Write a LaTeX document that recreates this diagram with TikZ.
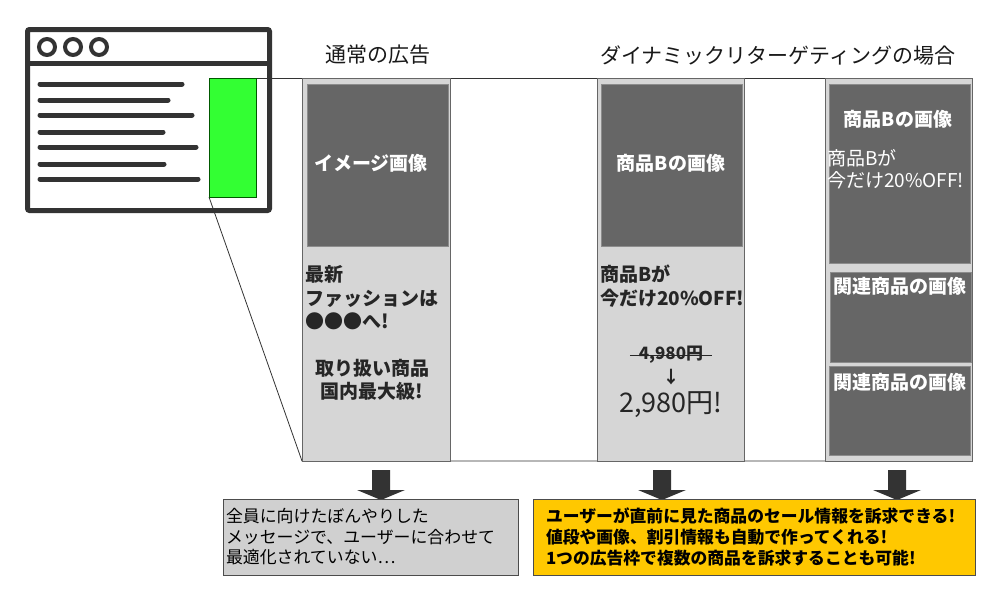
\documentclass[tikz,border=0pt]{standalone}
\usepackage{fontspec}
\setmainfont{Noto Sans CJK JP}
\usetikzlibrary{calc,backgrounds}
\definecolor{frame}{HTML}{333333}
\definecolor{panelgray}{HTML}{D6D6D6}
\definecolor{imggray}{HTML}{666666}
\definecolor{notegray}{HTML}{D0D0D0}
\definecolor{adgreen}{HTML}{33FF33}
\definecolor{noteyellow}{HTML}{FFC800}

\begin{document}
\begin{tikzpicture}[x=1pt,y=-1pt,
  every node/.style={inner sep=0pt,outer sep=0pt},
  panel/.style={draw=black!60,fill=panelgray,line width=1pt,anchor=north west},
  imgbox/.style={draw=black!45,fill=imggray,line width=0.6pt,anchor=north west},
  imgtext/.style={text=white,font=\fontsize{19}{22}\selectfont\bfseries},
  adtext/.style={text=black!85,font=\fontsize{19}{23.5}\selectfont\bfseries},
  title/.style={text=black!90,font=\fontsize{21}{24}\selectfont},
  notebox/.style={draw=black!70,line width=0.8pt,anchor=north west,minimum height=76,align=left}]

\useasboundingbox (0,0) rectangle (1000,600);

\draw [frame,line width=5,rounded corners=2] (27.5,29.5) rectangle (269.5,210.5);
\draw [frame,line width=5] (27.5,63) -- (269.5,63);
\foreach \x in {47,73,99}
  \draw [frame,line width=4] (\x,47) circle [radius=8pt];
\foreach \y/\e in {84/182,100/168,115/192,132/163,147/196,164/164,179/198}
  \draw [frame,line width=5,line cap=round] (40,\y) -- (\e,\y);

\node [draw=green!35!black,fill=adgreen,line width=0.6pt,minimum width=47,minimum height=119,anchor=north west] (adspace) at (209,78) {};

\node [panel,minimum width=148,minimum height=383] (normal) at (302,78) {};
\node [panel,minimum width=147,minimum height=383] (dynsingle) at (597,78) {};
\node [panel,minimum width=147,minimum height=383] (dynmulti) at (825,78) {};

\begin{scope}[on background layer]
\draw [frame,line width=0.8] (adspace.north west) -- (dynmulti.north east);
\draw [frame,line width=0.8] (adspace.south west) -- (normal.south west) -- (dynmulti.south east);
\end{scope}

\node [imgbox,minimum width=141,minimum height=162] (normalimg) at (307,84) {};
\node [imgbox,minimum width=141,minimum height=162] (singleimg) at (601,84) {};
\node [imgbox,minimum width=141,minimum height=179] (multiimg) at (829,84) {};
\node [imgbox,minimum width=141,minimum height=90] (relimga) at (830,272) {};
\node [imgbox,minimum width=141,minimum height=89] (relimgb) at (829,366) {};

\node [title] (normaltitle) at (378,55) {通常の広告};
\node [title] (dyntitle) at (778,55) {ダイナミックリターゲティングの場合};

\node [imgtext] (normalimglabel) at (371,163) {イメージ画像};
\node [adtext,anchor=west,align=left] (normalcopy) at (305,298) {最新\\ファッションは\\●●●へ!};
\node [adtext,align=center] (normalclaim) at (372,380) {取り扱い商品\\国内最大級!};

\node [imgtext] (singleimglabel) at (671,163) {商品Bの画像};
\node [adtext,anchor=west,align=left] (singlecopy) at (600,286) {商品Bが\\今だけ20\%OFF!};
\node [text=black!85,font=\fontsize{17}{20}\selectfont\bfseries,inner xsep=9pt] (oldprice) at (671,355) {4,980円};
\draw [black!85,line width=1] (oldprice.west) -- (oldprice.east);
\node [text=black!85,font=\fontsize{17}{20}\selectfont\bfseries] (pricearrow) at (671,377) {↓};
\node [text=black!85,font=\fontsize{27}{30}\selectfont] (newprice) at (671,405) {2,980円!};

\node [imgtext] (multiimglabel) at (898,119) {商品Bの画像};
\node [imgtext,anchor=west,align=left,font=\fontsize{19}{22}\selectfont] (multicopy) at (827,169) {商品Bが\\今だけ20\%OFF!};
\node [imgtext] (relimgalabel) at (900,286) {関連商品の画像};
\node [imgtext] (relimgblabel) at (900,382) {関連商品の画像};

\foreach \x in {381,662,897}
  \fill [frame] (\x-9,470) -- (\x+9,470) -- (\x+9,490) -- (\x+24,490) -- (\x,500) -- (\x-24,490) -- (\x-9,490) -- cycle;

\node [notebox,fill=notegray,minimum width=295,text width=289pt,inner xsep=3pt,font=\fontsize{16.9}{20.5}\selectfont] (normalnote) at (223,499) {全員に向けたぼんやりした\\メッセージで、ユーザーに合わせて\\最適化されていない{\addfontfeature{CharacterWidth=Full}…}};
\node [notebox,fill=noteyellow,minimum width=442,text width=416pt,inner xsep=13pt,font=\fontsize{16.8}{21}\selectfont\bfseries] (dynnote) at (533,499) {ユーザーが直前に見た商品のセール情報を訴求できる!\\値段や画像、割引情報も自動で作ってくれる!\\1つの広告枠で複数の商品を訴求することも可能!};

\end{tikzpicture}
\end{document}
